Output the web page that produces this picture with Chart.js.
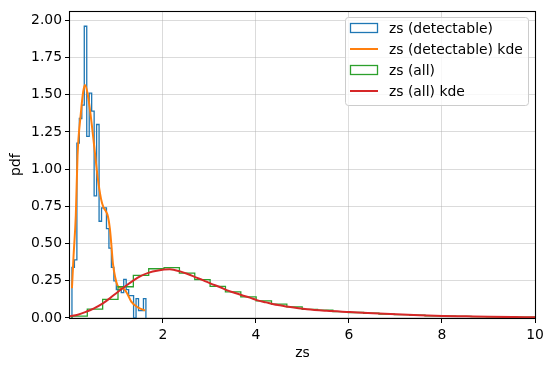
<!DOCTYPE html>
<html>
<head>
<meta charset="utf-8">
<script src="https://cdn.jsdelivr.net/npm/chart.js@4.4.1/dist/chart.umd.min.js"></script>
<style>
  html, body { margin: 0; padding: 0; background: #fff; }
</style>
</head>
<body>
<canvas id="chart" width="553" height="371"></canvas>
<script>
// Histogram bin edges and densities
const detEdges = [0.045, 0.098, 0.151, 0.204, 0.257, 0.310, 0.363, 0.416, 0.469, 0.522, 0.575,
                  0.628, 0.681, 0.734, 0.787, 0.840, 0.893, 0.946, 0.999, 1.052, 1.105,
                  1.158, 1.211, 1.264, 1.317, 1.370, 1.423, 1.476, 1.529, 1.582, 1.635];
const detDensity = [0.34, 0.39, 1.175, 1.34, 1.43, 1.96, 1.22, 1.51, 1.39, 0.82,
                    1.30, 0.65, 0.74, 0.74, 0.60, 0.47, 0.34, 0.25, 0.19, 0.19,
                    0.17, 0.26, 0.19, 0.15, 0.15, 0.0, 0.13, 0.05, 0.05, 0.13];

const detKdeX = [0.045, 0.08, 0.128, 0.165, 0.236, 0.287, 0.322, 0.38, 0.452, 0.525, 0.596,
                 0.67, 0.72, 0.77, 0.82, 0.86, 0.89, 0.926, 0.977, 1.03, 1.107, 1.18,
                 1.24, 1.32, 1.47, 1.62];
const detKdeY = [0.20, 0.42, 0.69, 1.09, 1.375, 1.52, 1.565, 1.51, 1.35, 1.15, 0.95,
                 0.80, 0.745, 0.72, 0.68, 0.60, 0.50, 0.365, 0.27, 0.215, 0.20, 0.19,
                 0.16, 0.11, 0.07, 0.05];

const allEdges = [0.045, 0.375, 0.705, 1.035, 1.365, 1.695, 2.025, 2.355, 2.685, 3.015, 3.345,
                  3.675, 4.005, 4.335, 4.665, 4.995, 5.325, 5.655, 5.985, 6.315, 6.645,
                  6.975, 7.305, 7.635, 7.965, 8.295, 8.625, 8.955, 9.285, 9.615, 9.945, 10.275];
const allDensity = [0.013, 0.06, 0.125, 0.21, 0.287, 0.331, 0.338, 0.302, 0.258, 0.213,
                    0.175, 0.142, 0.115, 0.093, 0.075, 0.058, 0.052, 0.043, 0.037, 0.032,
                    0.026, 0.022, 0.019, 0.015, 0.013, 0.011, 0.009, 0.008, 0.007, 0.006, 0.005];

const allKdeX = [0.003, 0.17, 0.35, 0.52, 0.71, 0.87, 1.03, 1.2, 1.37, 1.52, 1.70, 1.87, 2.15,
                 2.37, 2.52, 2.69, 2.87, 3.03, 3.22, 3.37, 3.52, 3.70, 3.87, 4.02, 4.22, 4.38,
                 4.52, 4.70, 5.10, 5.52, 6.02, 6.52, 7.02, 7.52, 8.02, 8.52, 9.02, 9.52, 10.02, 10.3];
const allKdeY = [0.012, 0.022, 0.042, 0.065, 0.098, 0.135, 0.175, 0.215, 0.253, 0.282, 0.305,
                 0.318, 0.327, 0.313, 0.297, 0.275, 0.253, 0.231, 0.208, 0.187, 0.171,
                 0.153, 0.137, 0.120, 0.105, 0.093, 0.085, 0.075, 0.058, 0.048, 0.040,
                 0.032, 0.025, 0.019, 0.014, 0.011, 0.008, 0.006, 0.005, 0.004];

const xTicks = [2, 4, 6, 8, 10];
const yTicks = [0, 0.25, 0.5, 0.75, 1.0, 1.25, 1.5, 1.75, 2.0];

// matplotlib step outline: up from zero at the first edge, down to zero at the last
function stepPoints(edges, vals) {
    const pts = [{ x: edges[0], y: 0 }];
    vals.forEach((v, i) => pts.push({ x: edges[i], y: v }));
    pts.push({ x: edges[edges.length - 1], y: vals[vals.length - 1] });
    pts.push({ x: edges[edges.length - 1], y: 0 });
    return pts;
}
function linePoints(xs, ys) {
    return xs.map((x, i) => ({ x: x, y: ys[i] }));
}

const font = { family: 'DejaVu Sans', size: 13.9 };
const gridColor = 'rgba(176,176,176,0.45)';

const frameAndLegend = {
    id: 'frameAndLegend',
    afterDraw(chart) {
        const ctx = chart.ctx;
        const a = chart.chartArea;
        ctx.save();
        ctx.strokeStyle = '#000';
        ctx.lineWidth = 1.1;
        ctx.strokeRect(Math.round(a.left) - 0.5, Math.round(a.top) + 0.5,
                       Math.round(a.right - a.left) + 1, Math.round(a.bottom - a.top));

        // legend box in the top right corner
        const bx = 345.5, by = 17.5, bw = 183, bh = 88;
        ctx.beginPath();
        ctx.roundRect(bx, by, bw, bh, 3);
        ctx.fillStyle = 'rgba(255,255,255,0.8)';
        ctx.fill();
        ctx.lineWidth = 1;
        ctx.strokeStyle = '#cccccc';
        ctx.stroke();

        ctx.font = `${font.size}px ${font.family}`;
        ctx.textBaseline = 'middle';
        chart.data.datasets.forEach((ds, i) => {
            const y = 28 + i * 21;
            ctx.strokeStyle = ds.borderColor;
            if (ds.kind === 'hist') {
                ctx.lineWidth = 1.3;
                ctx.strokeRect(350.5, y - 4.5, 27, 9);
            } else {
                ctx.lineWidth = 2;
                ctx.beginPath();
                ctx.moveTo(350, y);
                ctx.lineTo(378, y);
                ctx.stroke();
            }
            ctx.fillStyle = '#000';
            ctx.fillText(ds.label, 389, y + 1);
        });
        ctx.restore();
    }
};

new Chart(document.getElementById('chart'), {
    type: 'line',
    data: {
        datasets: [
            { label: 'zs (detectable)', kind: 'hist', data: stepPoints(detEdges, detDensity),
              borderColor: '#1f77b4', borderWidth: 1.3, stepped: 'before', order: 4 },
            { label: 'zs (detectable) kde', kind: 'kde', data: linePoints(detKdeX, detKdeY),
              borderColor: '#ff7f0e', borderWidth: 2, cubicInterpolationMode: 'monotone', order: 3 },
            { label: 'zs (all)', kind: 'hist', data: stepPoints(allEdges, allDensity),
              borderColor: '#2ca02c', borderWidth: 1.3, stepped: 'before', order: 2 },
            { label: 'zs (all) kde', kind: 'kde', data: linePoints(allKdeX, allKdeY),
              borderColor: '#d62728', borderWidth: 2, cubicInterpolationMode: 'monotone', order: 1 }
        ]
    },
    options: {
        responsive: false,
        animation: false,
        devicePixelRatio: 1,
        layout: { padding: { left: 0, right: 18, top: 10, bottom: 0 } },
        elements: { point: { radius: 0 }, line: { fill: false } },
        scales: {
            x: {
                type: 'linear',
                min: 0.003,
                max: 10,
                afterBuildTicks: s => { s.ticks = xTicks.map(v => ({ value: v })); },
                afterFit: s => { s.height = 53; },
                grid: { color: gridColor, lineWidth: 1, tickLength: 5, tickColor: '#000' },
                border: { display: false },
                ticks: { color: '#000', font: font, padding: 4, maxRotation: 0,
                         callback: v => String(v) },
                title: { display: true, text: 'zs', color: '#000', font: font,
                         padding: { top: 0, bottom: 9 } }
            },
            y: {
                type: 'linear',
                min: 0,
                max: 2.06,
                afterBuildTicks: s => { s.ticks = yTicks.map(v => ({ value: v })); },
                afterFit: s => { s.width = 70; },
                grid: { color: gridColor, lineWidth: 1, tickLength: 5, tickColor: '#000' },
                border: { display: false },
                ticks: { color: '#000', font: font, padding: 3,
                         callback: v => v.toFixed(2) },
                title: { display: true, text: 'pdf', color: '#000', font: font,
                         padding: { top: 8, bottom: 0 } }
            }
        },
        plugins: {
            legend: { display: false },
            tooltip: { enabled: false }
        }
    },
    plugins: [frameAndLegend]
});
</script>
</body>
</html>
